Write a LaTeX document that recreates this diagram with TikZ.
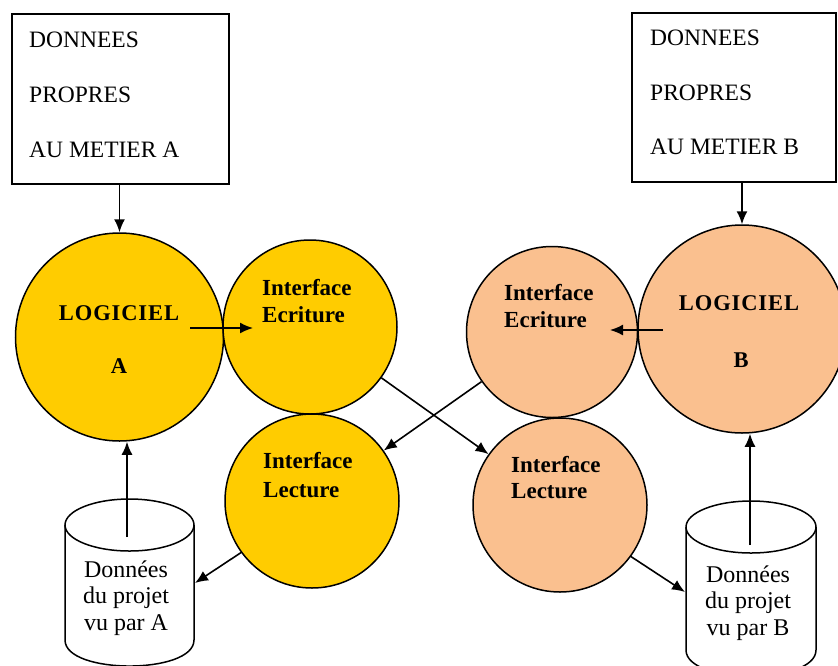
\documentclass[tikz,border=0pt]{standalone}
\usepackage{fontspec}
\setmainfont{Liberation Serif}
\usetikzlibrary{arrows.meta}
\definecolor{gold}{RGB}{255,204,0}
\definecolor{peach}{RGB}{250,192,143}
\begin{document}
\begin{tikzpicture}[x=1pt,y=-1pt,
  txt/.style={anchor=base west, inner sep=0pt, font=\fontsize{23.5}{27}\selectfont},
  ctxt/.style={anchor=base, inner sep=0pt, font=\fontsize{24}{27}\selectfont},
  btxt/.style={anchor=base west, inner sep=0pt, font=\fontsize{23}{26}\selectfont\bfseries},
  bctxt/.style={anchor=base, inner sep=0pt, font=\addfontfeatures{LetterSpace=4}\fontsize{22.5}{26}\selectfont\bfseries},
  box/.style={draw=black, line width=1.5pt, inner sep=0pt},
  bubA/.style={circle, draw=black, line width=1.5pt, fill=gold, inner sep=0pt},
  bubB/.style={circle, draw=black, line width=1.5pt, fill=peach, inner sep=0pt},
  cyl/.style={draw=black, line width=1.5pt, fill=white},
  arr/.style={-{Latex[length=13pt,width=11pt]}, line width=1.6pt}
]
\useasboundingbox (0,0) rectangle (838,665);
\clip (0,0) rectangle (838,665);
\fill[white] (0,0) rectangle (838,665);

% boxes
\node[box, minimum width=217pt, minimum height=170pt] (boxA) at (120.5,99) {};
\node[box, minimum width=204pt, minimum height=169pt] (boxB) at (734,97.5) {};
\node[txt] (ta1) at (29,47) {DONNEES};
\node[txt] (ta2) at (29,102) {PROPRES};
\node[txt] (ta3) at (29,157) {AU METIER A};
\node[txt] (tb1) at (650,45) {DONNEES};
\node[txt] (tb2) at (650,100) {PROPRES};
\node[txt] (tb3) at (650,154) {AU METIER B};

% circles
\node[bubA, minimum size=208pt] (logA) at (119.5,337) {};
\node[bubA, minimum size=174pt] (ecrA) at (310,327) {};
\node[bubA, minimum size=174pt] (lecA) at (312,501) {};
\node[bubB, minimum size=171pt] (ecrB) at (552,332) {};
\node[bubB, minimum size=174pt] (lecB) at (560,505) {};
\node[bubB, minimum size=208pt] (logB) at (742,329) {};

\node[bctxt] (lA1) at (119,320) {LOGICIEL};
\node[bctxt] (lA2) at (119,373) {A};
\node[bctxt] (lB1) at (739,310) {LOGICIEL};
\node[bctxt] (lB2) at (741,367) {B};
\node[btxt] (eA1) at (262,295) {Interface};
\node[btxt] (eA2) at (262,322) {Ecriture};
\node[btxt] (cA1) at (263,468) {Interface};
\node[btxt] (cA2) at (263,497) {Lecture};
\node[btxt] (eB1) at (504,300) {Interface};
\node[btxt] (eB2) at (504,327) {Ecriture};
\node[btxt] (cB1) at (511,472) {Interface};
\node[btxt] (cB2) at (511,498) {Lecture};

% cylinders
\draw[cyl] (65,525) -- (65,640) .. controls (65,674.7) and (194,674.7) .. (194,640) -- (194,525);
\draw[cyl] (129.5,525) ellipse [x radius=64.5, y radius=26];
\node[inner sep=0pt, minimum width=129pt, minimum height=115pt] (cylA) at (129.5,582.5) {};
\draw[cyl] (686,527) -- (686,650) .. controls (686,684.7) and (816,684.7) .. (816,650) -- (816,527);
\draw[cyl] (751,527) ellipse [x radius=65, y radius=26];
\node[inner sep=0pt, minimum width=130pt, minimum height=123pt] (cylB) at (751,588.5) {};

\node[ctxt] (dA1) at (126,577) {Données};
\node[ctxt] (dA2) at (126,603) {du projet};
\node[ctxt] (dA3) at (126,630) {vu par A};
\node[ctxt] (dB1) at (748,582) {Données};
\node[ctxt] (dB2) at (748,608) {du projet};
\node[ctxt] (dB3) at (748,635) {vu par B};

% connectors
\draw[arr] (logA.north |- boxA.south) -- (logA.north);
\draw[arr] (logB.north |- boxB.south) -- (logB.north);
\coordinate (a1) at (190,328);
\coordinate (a2) at (253,328);
\draw[arr] (a1) -- (a2);
\coordinate (b1) at (663,330);
\coordinate (b2) at (610,330);
\draw[arr] (b1) -- (b2);
\draw[arr] (ecrA) -- (lecB);
\draw[arr] (ecrB) -- (lecA);
\coordinate (cAin) at (195,583);
\draw[arr] (lecA.216.5) -- (cAin);
\coordinate (cBin) at (685,592);
\draw[arr] (lecB.324.8) -- (cBin);
\coordinate (cAout) at (127,537);
\draw[arr] (cAout) -- (cAout |- logA.south);
\coordinate (cBout) at (750,545);
\draw[arr] (cBout) -- (cBout |- logB.south);
\end{tikzpicture}
\end{document}
